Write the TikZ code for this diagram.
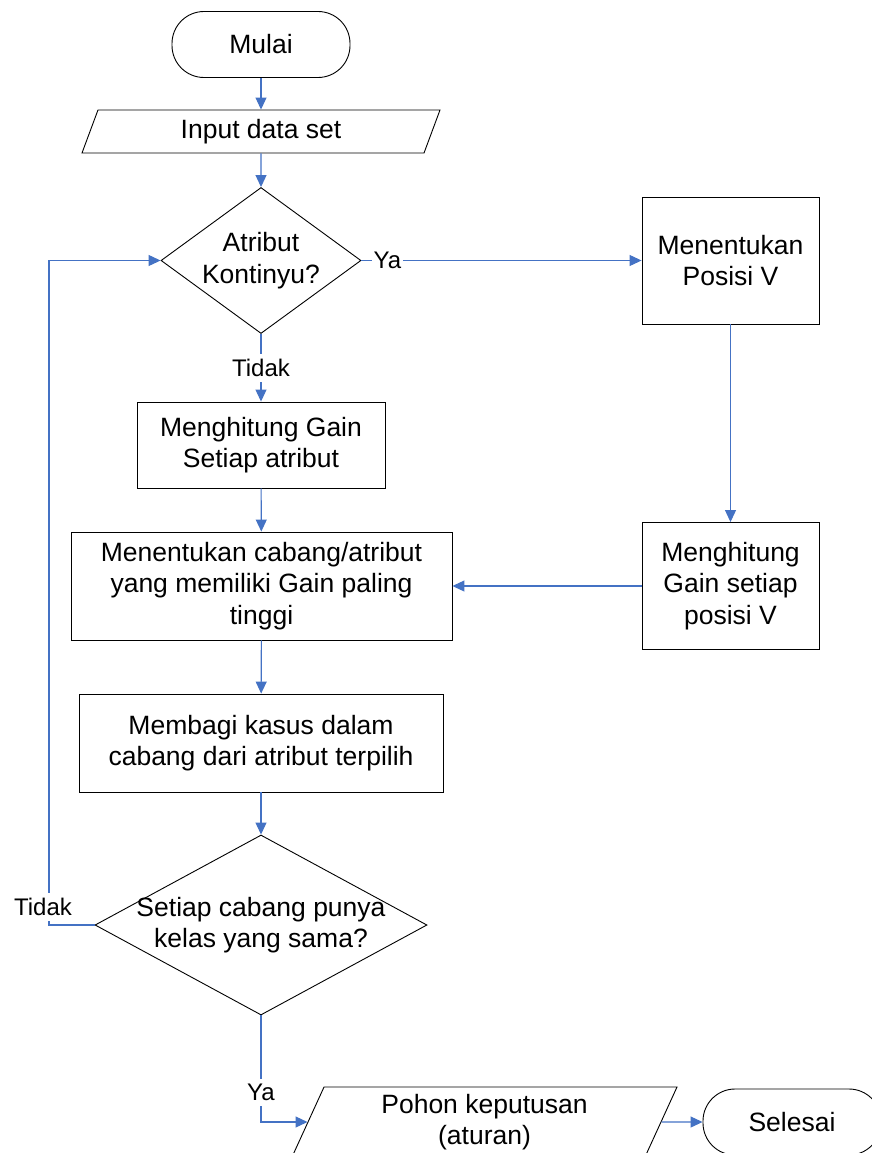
\documentclass[tikz,border=0pt]{standalone}
\usepackage{fontspec}
\setmainfont{Liberation Sans}
\usepackage{tikz}
\usetikzlibrary{arrows.meta, shapes.geometric, positioning}
\definecolor{garis}{RGB}{68,114,196}

\begin{document}
\begin{tikzpicture}[x=1pt, y=-1pt,
    >={Triangle[length=12pt, width=11pt]},
    every node/.style={font=\fontsize{26.5}{31.5}\selectfont, align=center},
    terminal/.style={draw, rectangle, rounded corners=32pt, minimum width=178, minimum height=66, line width=0.9pt},
    proses/.style={draw, rectangle, line width=0.9pt},
    masukan/.style={draw, trapezium, trapezium left angle=63, trapezium right angle=117, trapezium stretches body, line width=0.9pt},
    keputusan/.style={draw, diamond, inner sep=0pt, line width=0.9pt},
    panah/.style={->, color=garis, line width=1.1pt},
    ket/.style={font=\fontsize{24}{28}\selectfont, text=black, fill=white, inner xsep=2pt, inner ysep=5pt}]
    \useasboundingbox (0,0) rectangle (871,1153);

    % Mulai dan input
    \node[terminal] (mulai) at (261,44.5) {Mulai};
    \node[masukan, minimum width=358, minimum height=43] (input) at (261,131.5) {Input data set};

    % Keputusan pertama
    \node[keputusan, minimum width=200, minimum height=146] (cek1) at (261,260.5) {};
    \node (cek1teks) at (cek1) {Atribut\\Kontinyu?};

    % Cabang kanan (atribut kontinyu)
    \node[proses, minimum width=177, minimum height=127] (posisi) at (730.5,260.5) {Menentukan\\Posisi V};
    \node[proses, minimum width=177, minimum height=127] (gainv) at (730.5,586) {Menghitung\\Gain setiap\\posisi V};

    % Proses utama
    \node[proses, minimum width=248, minimum height=86] (gain) at (261,445) {Menghitung Gain\\Setiap atribut};
    \node[proses, minimum width=381, minimum height=108] (cabang) at (261.5,586) {Menentukan cabang/atribut\\yang memiliki Gain paling\\tinggi};
    \node[proses, minimum width=364, minimum height=98] (bagi) at (261,743) {Membagi kasus dalam\\cabang dari atribut terpilih};

    % Keputusan kedua
    \node[keputusan, minimum width=332, minimum height=180] (cek2) at (261,925) {};
    \node (cek2teks) at (cek2) {Setiap cabang punya\\kelas yang sama?};

    % Hasil dan selesai
    \node[masukan, minimum width=385, minimum height=70] (pohon) at (484.5,1122) {Pohon keputusan\\(aturan)};
    \node[terminal] (selesai) at (792,1122) {Selesai};

    % Panah-panah
    \draw[panah] (mulai) -- (input);
    \draw[panah] (input) -- (cek1);
    \draw[panah] (cek1.east) -- node[ket, pos=0.093] {Ya} (posisi.west);
    \draw[panah] (cek1.south) -- node[ket] {Tidak} (gain.north);
    \draw[panah] (gain) -- (cabang);
    \draw[panah] (posisi) -- (gainv);
    \draw[panah] (gainv.west) -- (cabang.east);
    \draw[panah] (cabang) -- (bagi);
    \draw[panah] (bagi) -- (cek2);

    % Kembali ke atas bila belum sama
    \coordinate (kiri) at (49,925);
    \draw[panah] (cek2.west) -- (kiri) |- (cek1.west);
    \node[ket] (tidak2) at (43,907) {Tidak};

    % Ya menuju pohon keputusan
    \draw[panah] (cek2.south) |- node[ket, pos=0.363] {Ya} (pohon.west);
    \draw[panah] (pohon.east) -- (selesai.west);
\end{tikzpicture}
\end{document}
